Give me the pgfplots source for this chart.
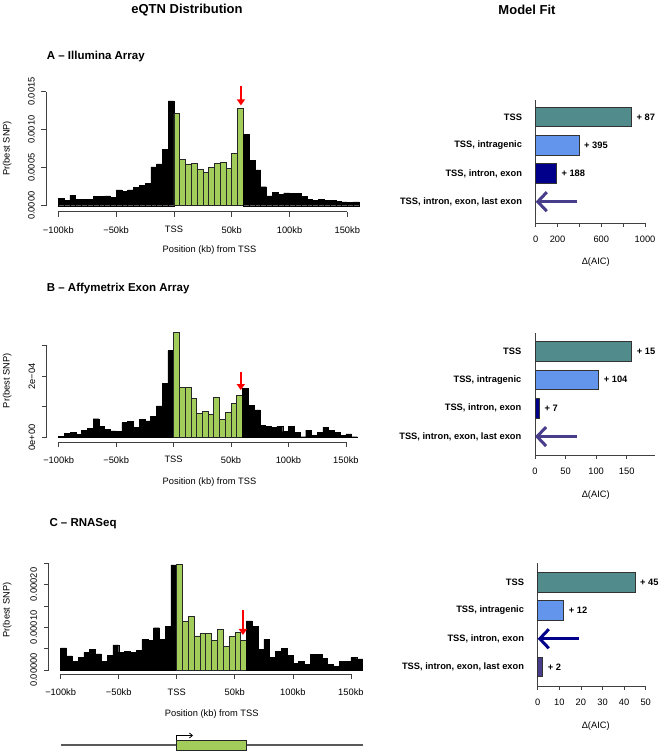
\documentclass[border=0pt]{standalone}
\usepackage{fontspec}
\setmainfont{Liberation Sans}
\usepackage{pgfplots}
\pgfplotsset{compat=1.18}
\usetikzlibrary{arrows.meta}

\definecolor{genegreen}{HTML}{A2CD5A}
\definecolor{tssteal}{HTML}{528B8B}
\definecolor{intrablue}{HTML}{6495ED}
\definecolor{exonnavy}{HTML}{00008B}
\definecolor{lastslate}{HTML}{483D8B}
\definecolor{axisgray}{HTML}{404040}

\newcommand{\fs}{\fontsize{9.3bp}{11bp}\selectfont}

\pgfplotsset{
  hist/.style={
    scale only axis, anchor=south west, clip=false,
    axis x line*=bottom, axis y line*=left,
    axis line style={draw=none},
    tick align=outside, major tick length=5bp,
    tick style={axisgray, line width=0.7bp},
    xmin=-110.4, xmax=170.4,
    xtick={-100,-50,0,50,100,150},
    xticklabels={−100kb,−50kb,TSS,50kb,100kb,150kb},
    scaled y ticks=false,
    tick label style={font=\fs},
    xticklabel style={yshift=-6bp},
    yticklabel style={xshift=-3bp, rotate=90, anchor=south},
  },
  blackbar/.style={ybar interval, fill=black, draw=black, line width=0.4bp},
  greenbar/.style={ybar interval, fill=genegreen, draw=black!85, line width=0.6bp},
  redarrow/.style={red, line width=2bp, -{Triangle[width=8bp,length=6bp]}},
  fit/.style={
    scale only axis, anchor=south west, clip=false,
    axis x line*=bottom, axis y line*=left,
    axis line style={axisgray, line width=0.7bp},
    y dir=reverse, xmin=0,
    ytick={1,2,3,4},
    yticklabels={TSS,{TSS, intragenic},{TSS, intron, exon},{TSS, intron, exon, last exon}},
    tick align=outside, major tick length=3.5bp,
    tick style={axisgray, line width=0.7bp},
    ytick style={draw=none},
    xticklabel style={font=\fs, yshift=-6bp},
    yticklabel style={font=\bfseries\fs, anchor=east, inner sep=0pt, xshift=-10bp},
  },
  fitbar/.style={xbar, bar shift=0pt, bar width=19.5bp, draw=black!80, line width=0.6bp,
    nodes near coords, point meta=explicit symbolic,
    every node near coord/.append style={font=\bfseries\fs, anchor=west, inner sep=0pt, xshift=5bp}},
  fitarrow/.style={line width=3bp, -{Straight Barb[length=9bp,width=19bp]}},
}

\begin{document}
\begin{tikzpicture}
\useasboundingbox (0,0) rectangle (661bp,-753bp);

% ---------------- titles
\node[font=\bfseries\fontsize{13bp}{15bp}\selectfont] at (187bp,-10bp) {eQTN Distribution};
\node[font=\bfseries\fontsize{13bp}{15bp}\selectfont] at (527bp,-10bp) {Model Fit};
\node[font=\bfseries\fontsize{11.5bp}{13bp}\selectfont, anchor=west, inner sep=0pt] at (46.7bp,-56.7bp) {A – Illumina Array};
\node[font=\bfseries\fontsize{11.5bp}{13bp}\selectfont, anchor=west, inner sep=0pt] at (46.7bp,-288.3bp) {B – Affymetrix Exon Array};
\node[font=\bfseries\fontsize{11.5bp}{13bp}\selectfont, anchor=west, inner sep=0pt] at (49.3bp,-523.3bp) {C – RNASeq};

% ---------------- A histogram
\begin{axis}[hist, at={(46.3bp,-211.8bp)}, width=324.6bp, height=127.7bp,
  ymin=-0.00008, ymax=0.0016,
  ytick={0,0.0005,0.001,0.0015}, yticklabels={0.0000,0.0005,0.0010,0.0015}]
\addplot[blackbar] coordinates {
 (-100,0.00010) (-95,0.00007) (-90,0.00014) (-85,0.00008) (-80,0.00008)
 (-75,0.00008) (-70,0.00012) (-65,0.00012) (-60,0.00013) (-55,0.00011)
 (-50,0.00021) (-45,0.00019) (-40,0.00021) (-35,0.00024) (-30,0.00027)
 (-25,0.00029) (-20,0.00051) (-15,0.00055) (-10,0.00074) (-5,0.00138) (0,0)};
\addplot[greenbar] coordinates {
 (0,0.00121) (5,0.00061) (10,0.00055) (15,0.00056) (20,0.00048) (25,0.00044)
 (30,0.00050) (35,0.00056) (40,0.00057) (45,0.00049) (50,0.00069) (55,0.00128) (60,0)};
\addplot[blackbar] coordinates {
 (60,0.00094) (65,0.00060) (70,0.00047) (75,0.00025) (80,0.00013)
 (85,0.00018) (90,0.00015) (95,0.00017) (100,0.00016) (105,0.00016)
 (110,0.00012) (115,0.00008) (120,0.00007) (125,0.00008) (130,0.00007)
 (135,0.00007) (140,0.00006) (145,0.00005) (150,0.00004) (155,0.00005) (160,0)};
\addplot[redarrow] coordinates {(58,0.00157) (58,0.00132)};
\draw[axisgray, line width=0.7bp] (axis cs:-100,-0.00008) -- (axis cs:150,-0.00008);
\draw[axisgray, line width=0.7bp] (axis cs:-110.4,0) -- (axis cs:-110.4,0.0015);
\end{axis}

% ---------------- B histogram
\begin{axis}[hist, at={(46.75bp,-441.9bp)}, width=322.6bp, height=114.4bp,
  ymin=-0.000015, ymax=0.00036,
  ytick={0,0.0001,0.0002,0.0003}, yticklabels={0e+00,,2e−04,}]
\addplot[blackbar] coordinates {
 (-100,0.000004) (-95,0.000013) (-90,0.000017) (-85,0.000010) (-80,0.000022)
 (-75,0.000030) (-70,0.000061) (-65,0.000035) (-60,0.000027) (-55,0.000021)
 (-50,0.000019) (-45,0.000048) (-40,0.000052) (-35,0.000033) (-30,0.000059)
 (-25,0.000054) (-20,0.000068) (-15,0.000103) (-10,0.000177) (-5,0.000284) (0,0)};
\addplot[greenbar] coordinates {
 (0,0.000343) (5,0.000164) (10,0.000164) (15,0.000128) (20,0.000079) (25,0.000085)
 (30,0.000075) (35,0.000131) (40,0.000060) (45,0.000082) (50,0.000111) (55,0.000138) (60,0)};
\addplot[blackbar] coordinates {
 (60,0.000160) (65,0.000105) (70,0.000090) (75,0.000040) (80,0.000037)
 (85,0.000033) (90,0.000037) (95,0.000019) (100,0.000035) (105,0.000017)
 (110,0.000002) (115,0.000024) (120,0.000007) (125,0.000017) (130,0.000033)
 (135,0.000024) (140,0.000017) (145,0.000007) (150,0.000011) (155,0.000002) (160,0)};
\addplot[redarrow] coordinates {(58.5,0.000213) (58.5,0.000155)};
\draw[axisgray, line width=0.7bp] (axis cs:-100,-0.000015) -- (axis cs:150,-0.000015);
\draw[axisgray, line width=0.7bp] (axis cs:-110.4,0) -- (axis cs:-110.4,0.0003);
\end{axis}

% ---------------- C histogram
\begin{axis}[hist, at={(48.6bp,-674bp)}, width=326bp, height=119.3bp,
  ymin=-0.0000094, ymax=0.00027,
  ytick={0,0.00005,0.0001,0.00015,0.0002,0.00025}, yticklabels={0.00000,,0.00010,,0.00020,}]
\addplot[blackbar] coordinates {
 (-100,0.000052) (-95,0.000033) (-90,0.000020) (-85,0.000029) (-80,0.000041)
 (-75,0.000048) (-70,0.000038) (-65,0.000020) (-60,0.000035) (-55,0.000059)
 (-50,0.000042) (-45,0.000044) (-40,0.000041) (-35,0.000046) (-30,0.000072)
 (-25,0.000070) (-20,0.000099) (-15,0.000072) (-10,0.000103) (-5,0.000246) (0,0)};
\addplot[greenbar] coordinates {
 (0,0.000248) (5,0.000113) (10,0.000125) (15,0.000080) (20,0.000085) (25,0.000085)
 (30,0.000070) (35,0.000095) (40,0.000055) (45,0.000078) (50,0.000088) (55,0.000070) (60,0)};
\addplot[blackbar] coordinates {
 (60,0.000115) (65,0.000103) (70,0.000049) (75,0.000072) (80,0.000029)
 (85,0.000043) (90,0.000051) (95,0.000035) (100,0.000016) (105,0.000021)
 (110,0.000013) (115,0.000037) (120,0.000037) (125,0.000027) (130,0.000013)
 (135,0.000009) (140,0.000021) (145,0.000020) (150,0.000029) (155,0.000026) (160,0)};
\addplot[redarrow] coordinates {(57,0.000141) (57,0.000082)};
\draw[axisgray, line width=0.7bp] (axis cs:-100,-0.0000094) -- (axis cs:150,-0.0000094);
\draw[axisgray, line width=0.7bp] (axis cs:-110.4,0) -- (axis cs:-110.4,0.00025);
% gene model
\addplot[black!65, line width=1.5bp] coordinates {(-100,-0.0001756) (160,-0.0001756)};
\addplot[fill=genegreen, draw=black!85, line width=0.6bp] coordinates
 {(0,-0.0001639) (60,-0.0001639) (60,-0.0001874) (0,-0.0001874)} -- cycle;
\addplot[black, line width=0.8bp, -{Straight Barb[length=3bp,width=5bp]}] coordinates
 {(0,-0.0001639) (0,-0.0001534) (14,-0.0001534)};
\end{axis}

% ---------------- A model fit
\begin{axis}[fit, at={(535.7bp,-223bp)}, width=109.3bp, height=123bp,
  xmax=1000, ymin=0.398, ymax=4.755,
  xtick={0,200,400,600,800,1000}, xticklabels={0,200,,600,,1000}]
\addplot[fitbar, fill=tssteal] coordinates {(875,1) [+ 87]};
\addplot[fitbar, fill=intrablue] coordinates {(395,2) [+ 395]};
\addplot[fitbar, fill=exonnavy] coordinates {(188,3) [+ 188]};
\addplot[fitarrow, lastslate] coordinates {(375,4) (0,4)};
\end{axis}

% ---------------- B model fit
\begin{axis}[fit, at={(535bp,-455bp)}, width=119.8bp, height=121.7bp,
  xmax=196, ymin=0.366, ymax=4.65,
  xtick={0,50,100,150}, xticklabels={0,50,100,150}]
\addplot[fitbar, fill=tssteal] coordinates {(158,1) [+ 15]};
\addplot[fitbar, fill=intrablue] coordinates {(104,2) [+ 104]};
\addplot[fitbar, fill=exonnavy] coordinates {(7,3) [+ 7]};
\addplot[fitarrow, lastslate] coordinates {(68,4) (0,4)};
\end{axis}

% ---------------- C model fit
\begin{axis}[fit, at={(537.7bp,-686bp)}, width=108bp, height=122.7bp,
  xmax=50, ymin=0.331, ymax=4.672,
  xtick={0,10,20,30,40,50}, xticklabels={0,10,20,30,40,50}]
\addplot[fitbar, fill=tssteal] coordinates {(45,1) [+ 45]};
\addplot[fitbar, fill=intrablue] coordinates {(12,2) [+ 12]};
\addplot[fitarrow, exonnavy] coordinates {(19.3,3) (0,3)};
\addplot[fitbar, fill=lastslate] coordinates {(2.3,4) [+ 2]};
\end{axis}

% ---------------- axis labels
\node[font=\fs] at (209.5bp,-250bp) {Position (kb) from TSS};
\node[font=\fs] at (209.5bp,-482.3bp) {Position (kb) from TSS};
\node[font=\fs] at (211.7bp,-714bp) {Position (kb) from TSS};
\node[font=\fs, rotate=90] at (7.3bp,-148.3bp) {Pr(best SNP)};
\node[font=\fs, rotate=90] at (7.3bp,-380.8bp) {Pr(best SNP)};
\node[font=\fs, rotate=90] at (7.3bp,-610bp) {Pr(best SNP)};
\node[font=\fs] at (595.7bp,-261.7bp) {Δ(AIC)};
\node[font=\fs] at (595.7bp,-495bp) {Δ(AIC)};
\node[font=\fs] at (595.7bp,-725.7bp) {Δ(AIC)};
\end{tikzpicture}
\end{document}
